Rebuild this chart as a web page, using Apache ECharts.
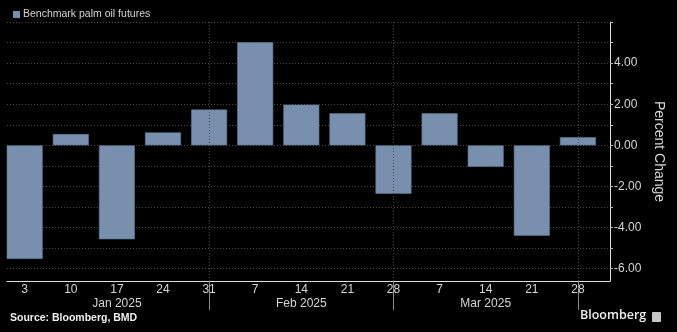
<!DOCTYPE html>
<html>
<head>
<meta charset="utf-8">
<script src="https://cdn.jsdelivr.net/npm/echarts@6/dist/echarts.min.js"></script>
<style>
  html, body { margin: 0; padding: 0; background: #000; }
  #chart { width: 677px; height: 332px; }
</style>
</head>
<body>
<div id="chart"></div>
<script>
// Weekly closing dates (Fridays) for the benchmark contract
const weeks = ['2025-01-03', '2025-01-10', '2025-01-17', '2025-01-24', '2025-01-31',
               '2025-02-07', '2025-02-14', '2025-02-21', '2025-02-28',
               '2025-03-07', '2025-03-14', '2025-03-21', '2025-03-28'];
// Week-on-week percent change
const pctChange = [-5.53, 0.55, -4.57, 0.63, 1.74, 5.02, 1.98, 1.56, -2.36, 1.56, -1.05, -4.40, 0.40];
// Month captions, placed under the middle week of each month
const captionDates = ['2025-01-17', '2025-02-14', '2025-03-14'];
const captionTexts = ['Jan 2025', 'Feb 2025', 'Mar 2025'];
// Last week of each month gets a separator line
const monthEnds = ['2025-01-31', '2025-02-28', '2025-03-28'];
const yLabelValues = [-6, -4, -2, 0, 2, 4];
const yTickValues = [-6, -5, -4, -3, -2, -1, 0, 1, 2, 3, 4, 5, 6];

// The x axis runs in week-index units; the window leaves a little room
// before the first week and more after the last one.
const xMin = -0.384;
const xMax = weeks.length - 1 + 0.696;

const weekIdx = weeks.map((d, i) => i);
const idxOf = d => weeks.indexOf(d);
const captionIdx = captionDates.map(idxOf);
const monthEndIdx = monthEnds.map(idxOf);

const FONT = 'Liberation Sans';
const TXT = '#d6d6d6';
const GRID = '#4a4a4a';

const chart = echarts.init(document.getElementById('chart'));
chart.setOption({
  backgroundColor: '#000',
  animation: false,
  textStyle: { fontFamily: FONT },
  legend: {
    left: 8, top: 4,
    itemWidth: 7, itemHeight: 7, itemGap: 4,
    icon: 'rect',
    itemStyle: { borderWidth: 0 },
    textStyle: { color: TXT, fontSize: 10.5, fontFamily: FONT, padding: [0, 0, 0, -2] },
    data: ['Benchmark palm oil futures']
  },
  grid: { left: 7, right: 67, top: 22, bottom: 51, outerBoundsMode: 'none' },
  xAxis: [{
    type: 'value',
    min: xMin, max: xMax,
    axisLine: { show: true, onZero: false, lineStyle: { color: '#e0e0e0', width: 1 } },
    axisTick: {
      show: true, length: 29,
      customValues: monthEndIdx,
      lineStyle: { color: '#8a8a8a' }
    },
    axisLabel: {
      color: TXT, fontSize: 12, margin: 3,
      customValues: weekIdx,
      formatter: v => String(Number(weeks[Math.round(v)].slice(8)))
    },
    splitLine: { show: false }
  }, {
    type: 'value',
    min: xMin, max: xMax,
    position: 'bottom',
    axisLine: { show: false, onZero: false },
    axisTick: { show: false },
    splitLine: { show: false },
    axisLabel: {
      color: TXT, fontSize: 12, margin: 17,
      customValues: captionIdx,
      formatter: v => captionTexts[captionIdx.indexOf(Math.round(v))] || ''
    }
  }],
  yAxis: {
    type: 'value',
    position: 'right',
    min: -6.6, max: 6,
    splitNumber: 6,
    axisLine: { show: true, onZero: false, lineStyle: { color: '#e0e0e0' } },
    axisTick: { show: true, inside: false, length: 3, customValues: yTickValues, lineStyle: { color: '#bbb' } },
    axisLabel: {
      color: TXT, fontSize: 12, margin: 4,
      customValues: yLabelValues,
      formatter: v => v.toFixed(2)
    },
    splitLine: { show: true, lineStyle: { color: GRID, type: [1, 2] } },
    name: 'Percent Change',
    nameLocation: 'middle',
    nameRotate: -90,
    nameGap: 36,
    nameTextStyle: { color: TXT, fontSize: 14, fontFamily: FONT }
  },
  series: [{
    name: 'Benchmark palm oil futures',
    type: 'bar',
    data: weekIdx.map(i => [i, pctChange[i]]),
    barWidth: 36,
    itemStyle: { color: '#7890ae', borderColor: '#5f7590', borderWidth: 0.6 },
    markLine: {
      silent: true,
      symbol: 'none',
      label: { show: false },
      lineStyle: { color: GRID, type: [1, 2], width: 1 },
      data: monthEndIdx.map(i => ({ xAxis: i }))
    }
  }],
  graphic: [
    {
      type: 'text', left: 10, top: 313,
      style: { text: 'Source: Bloomberg, BMD', fill: '#f0f0f0', font: 'bold 10.5px "' + FONT + '"' }
    },
    {
      type: 'text', left: 580, top: 309,
      style: { text: 'Bloomberg', fill: '#f0f0f0', font: '600 12.5px "Open Sans"' }
    },
    {
      type: 'rect', left: 652, top: 312,
      shape: { width: 9, height: 10, r: 1 },
      style: { fill: '#c8c8c8' }
    }
  ]
});
</script>
</body>
</html>
